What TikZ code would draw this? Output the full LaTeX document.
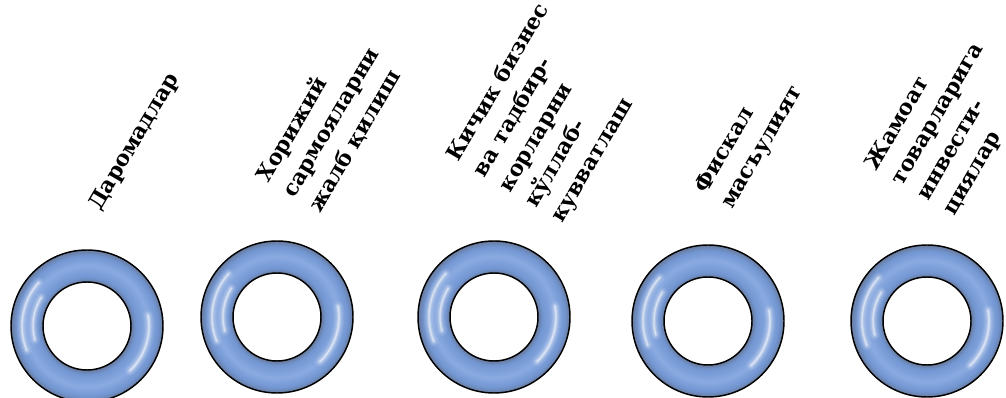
\documentclass[tikz,border=0pt]{standalone}
\usepackage{fontspec}
\setmainfont{DejaVu Serif}
\usetikzlibrary{positioning}

\definecolor{ringblue}{RGB}{114,150,210}
\definecolor{ringlight}{RGB}{138,170,225}
\definecolor{ringdark}{RGB}{104,122,156}
\pgfdeclareradialshading{ringshade}{\pgfpointorigin}{color(0bp)=(ringdark); color(14.5bp)=(ringdark); color(16bp)=(ringblue); color(20bp)=(ringlight); color(23.2bp)=(ringblue); color(25bp)=(ringdark); color(50bp)=(ringdark)}

\begin{document}
\begin{tikzpicture}[
    x=0.75pt, y=-0.75pt,
    lbl/.style={rotate=59.5, anchor=base west, align=left, inner sep=0pt, font=\fontsize{16.3}{22.5}\selectfont\bfseries},
    rim/.style={draw=black, line width=1.1pt},
    glint/.style={white, line cap=round}
]
\useasboundingbox (0,0) rectangle (1006,398);
\foreach \cx/\cy [count=\i] in {87/326,277/317,494/317,708/321,927/321}{
  \coordinate (ring\i) at (\cx,\cy);
  \shade[shading=ringshade, even odd rule] (ring\i) circle (76) (ring\i) circle (44);
  \begin{scope}[even odd rule]
    \clip (ring\i) circle (76) (ring\i) circle (44);
    \foreach \w/\o in {8/0.08, 5.5/0.12, 3.5/0.18, 1.8/0.3, 0.8/0.35}{
      \draw[glint, line width=\w, opacity=\o] (ring\i) ++(158:65) arc[start angle=158, end angle=222, radius=65];
      \draw[glint, line width=\w, opacity=\o] (ring\i) ++(165:54) arc[start angle=165, end angle=212, radius=54];
      \draw[glint, line width=\w, opacity=\o] (ring\i) ++(-10:62) arc[start angle=-10, end angle=46, radius=62];
    }
  \end{scope}
  \draw[rim] (ring\i) circle (76) (ring\i) circle (44);
}
\node[lbl] (income) at (100,212) {Даромадлар};
\node[lbl] (invest) at (320,214) {Хорижий\\сармояларни\\жалб қилиш};
\node[lbl] (smallbiz) at (562,224) {Кичик бизнес\\ва тадбир-\\корларни\\кўллаб-\\кувватлаш};
\node[lbl] (fiscal) at (732,210) {Фискал\\масъулият};
\node[lbl] (public) at (954,217) {Жамоат\\товарларига\\инвести-\\циялар};
\end{tikzpicture}
\end{document}
